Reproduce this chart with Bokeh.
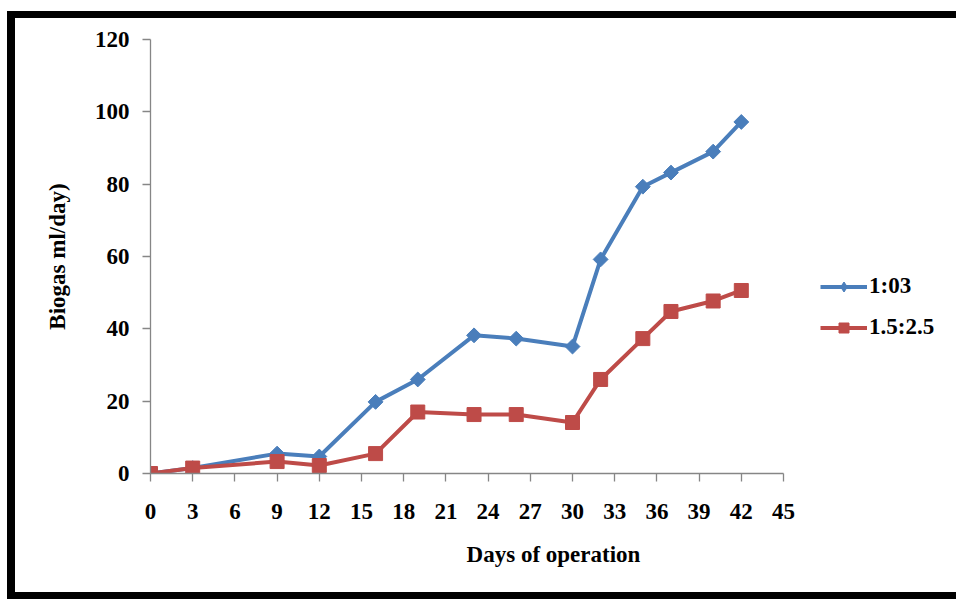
from bokeh.plotting import figure
from bokeh.models import Range1d, FixedTicker, Legend, LegendItem
from bokeh.embed import file_html
from bokeh.resources import INLINE
import math

days = [0, 3, 9, 12, 16, 19, 23, 26, 30, 32, 35, 37, 40, 42]
series_a = [0, 1.5, 5.5, 4.7, 19.8, 26.0, 38.2, 37.3, 35.1, 59.2, 79.3, 83.2, 89.0, 97.2]
series_b = [0, 1.5, 3.3, 2.2, 5.5, 17.0, 16.3, 16.3, 14.1, 26.0, 37.3, 44.8, 47.7, 50.6]
label_a = "1:03"
label_b = "1.5:2.5"
x_ticks = list(range(0, 46, 3))
y_ticks = list(range(0, 121, 20))
x_title = "Days of operation"
y_title = "Biogas ml/day)"

BLUE = "#4A7EBB"
RED = "#BE4B48"
AXIS = "#868686"
FONT = "Liberation Serif"

# frame extends to the right canvas edge so the legend sits inside it;
# the x axis itself is bounded to 0..45
X_END = 45 * 806 / 633

p = figure(width=941, height=574, output_backend="svg", toolbar_location=None,
           x_range=Range1d(0, X_END), y_range=Range1d(0, 120),
           min_border_left=135, min_border_right=0, min_border_top=21, min_border_bottom=119)
p.styles = {"margin-left": "15px", "margin-top": "18px",
            "box-shadow": ("-8px 0px 0px 0px black, 0px -7px 0px 0px black, "
                           "0px 7px 0px 0px black, -8px -7px 0px 0px black, "
                           "-8px 7px 0px 0px black")}
p.outline_line_color = None
p.xgrid.grid_line_color = None
p.ygrid.grid_line_color = None
p.background_fill_color = "white"
p.border_fill_color = "white"

for ax in (p.xaxis[0], p.yaxis[0]):
    ax.axis_line_color = AXIS
    ax.axis_line_width = 1.3
    ax.major_tick_line_color = AXIS
    ax.major_tick_line_width = 1.3
    ax.major_tick_in = 0
    ax.major_tick_out = 8
    ax.minor_tick_line_color = None
    ax.major_label_text_font = FONT
    ax.major_label_text_font_style = "bold"
    ax.major_label_text_font_size = "23px"
    ax.major_label_text_color = "black"
    ax.axis_label_text_font = FONT
    ax.axis_label_text_font_style = "bold"
    ax.axis_label_text_font_size = "23px"
    ax.axis_label_text_color = "black"

p.xaxis[0].bounds = (0, 45)
p.xaxis[0].ticker = FixedTicker(ticks=x_ticks)
p.yaxis[0].ticker = FixedTicker(ticks=y_ticks)
p.xaxis[0].axis_label = x_title
p.yaxis[0].axis_label = y_title
p.xaxis[0].major_label_standoff = 22
p.yaxis[0].major_label_standoff = 13
p.xaxis[0].axis_label_standoff = 20
p.yaxis[0].axis_label_standoff = 22

la = p.line(days, series_a, line_color=BLUE, line_width=4)
ma = p.scatter(days, series_a, marker="square", angle=math.pi / 4, size=10.5,
               fill_color=BLUE, line_color=BLUE)
lb = p.line(days, series_b, line_color=RED, line_width=4)
mb = p.scatter(days, series_b, marker="square", size=14, fill_color=RED, line_color=RED)
# hidden copies used only to draw the legend keys
ka = p.scatter(days, series_a, marker="diamond", size=13, fill_color=BLUE, line_color=BLUE,
               visible=False)
kb = p.scatter(days, series_b, marker="square", size=12, fill_color=RED, line_color=RED,
               visible=False)

legend = Legend(items=[LegendItem(label=label_a, renderers=[la, ka]),
                       LegendItem(label=label_b, renderers=[lb, kb])],
                location=(670, 133), orientation="vertical")
legend.border_line_color = None
legend.background_fill_alpha = 0
legend.padding = 0
legend.margin = 0
legend.spacing = 15
legend.glyph_width = 47
legend.glyph_height = 25
legend.label_height = 25
legend.label_standoff = 2
legend.label_text_font = FONT
legend.label_text_font_style = "bold"
legend.label_text_font_size = "23px"
legend.label_text_color = "black"
p.add_layout(legend, "center")

open("out.html", "w").write(file_html(p, INLINE))
